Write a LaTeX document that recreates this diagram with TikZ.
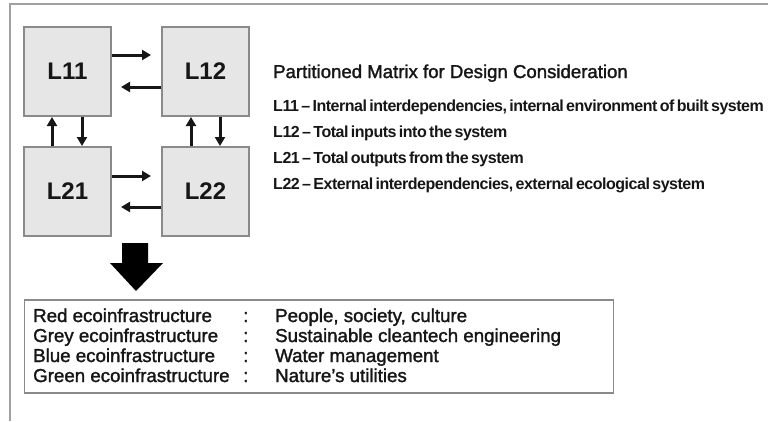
\documentclass[tikz,border=0pt]{standalone}
\usepackage{fontspec}
\setmainfont{Liberation Sans}
\newfontfamily\tightbold[LetterSpace=-3,WordSpace=0.6]{Liberation Sans Bold}
\newfontfamily\heavy[FakeBold=1.6]{Liberation Sans}
\usetikzlibrary{arrows.meta}
\definecolor{boxfill}{HTML}{E6E6E6}
\definecolor{boxline}{HTML}{8A8A8A}
\definecolor{frameline}{HTML}{A0A0A0}
\definecolor{ink}{HTML}{161616}
\begin{document}
\begin{tikzpicture}[x=1pt,y=-1pt,
  cell/.style={draw=boxline,line width=1.2pt,fill=boxfill,minimum width=87pt,minimum height=89pt,
    inner sep=0pt,font=\fontsize{24}{26}\selectfont\bfseries,text=ink},
  flow/.style={line width=3pt,ink,-{Triangle[length=9pt,width=10pt]}},
  note/.style={anchor=base west,inner sep=0pt,font=\tightbold\fontsize{16}{18}\selectfont,text=ink},
  row/.style={anchor=base west,inner sep=0pt,font=\heavy\fontsize{18.7}{20}\selectfont,text=ink}]
\useasboundingbox (0,0) rectangle (768,421);
\fill[white] (0,0) rectangle (768,421);
% outer frame (open at right and bottom)
\draw[frameline,line width=2pt] (10,421) -- (10,4) -- (768,4);

% partitioned matrix cells
\node[cell] (l11) at (67.5,71.5) {L11};
\node[cell] (l12) at (205.5,71.5) {L12};
\node[cell] (l21) at (67.5,191.5) {L21};
\node[cell] (l22) at (205.5,191.5) {L22};

% horizontal exchanges
\coordinate (t1) at (151,55);
\coordinate (t2) at (121,87);
\coordinate (t3) at (151,176);
\coordinate (t4) at (121,207);
\draw[flow] (l11.east |- t1) -- (t1);
\draw[flow] (l12.west |- t2) -- (t2);
\draw[flow] (l21.east |- t3) -- (t3);
\draw[flow] (l22.west |- t4) -- (t4);

% vertical exchanges
\coordinate (u1) at (52,117);
\coordinate (d1) at (82,146);
\coordinate (u2) at (191,117);
\coordinate (d2) at (220,146);
\draw[flow] (l21.north -| u1) -- (u1);
\draw[flow] (l11.south -| d1) -- (d1);
\draw[flow] (l22.north -| u2) -- (u2);
\draw[flow] (l12.south -| d2) -- (d2);

% legend of the partitions
\node[note,font=\heavy\fontsize{18.6}{20}\selectfont] (title) at (273,78) {Partitioned Matrix for Design Consideration};
\node[note] (n11) at (273,111) {L11 – Internal interdependencies, internal environment of built system};
\node[note] (n12) at (273,137) {L12 – Total inputs into the system};
\node[note] (n21) at (273,163) {L21 – Total outputs from the system};
\node[note] (n22) at (273,189) {L22 – External interdependencies, external ecological system};

% block arrow down to the summary
\fill[black] (122,243) -- (148,243) -- (148,263) -- (163,263) -- (136,291) -- (110,263) -- (122,263) -- cycle;

% summary box
\node[draw=boxline,line width=1.2pt,minimum width=589pt,minimum height=93pt,inner sep=0pt] (summary) at (319,346.5) {};
\node[row] (r1) at (33,322) {Red ecoinfrastructure};
\node[row] (r2) at (33,342) {Grey ecoinfrastructure};
\node[row] (r3) at (33,362) {Blue ecoinfrastructure};
\node[row] (r4) at (33,382) {Green ecoinfrastructure};
\node[row] (c1) at (243,322) {:};
\node[row] (c2) at (243,342) {:};
\node[row] (c3) at (243,362) {:};
\node[row] (c4) at (243,382) {:};
\node[row] (v1) at (275,322) {People, society, culture};
\node[row] (v2) at (275,342) {Sustainable cleantech engineering};
\node[row] (v3) at (275,362) {Water management};
\node[row] (v4) at (275,382) {Nature’s utilities};
\end{tikzpicture}
\end{document}
